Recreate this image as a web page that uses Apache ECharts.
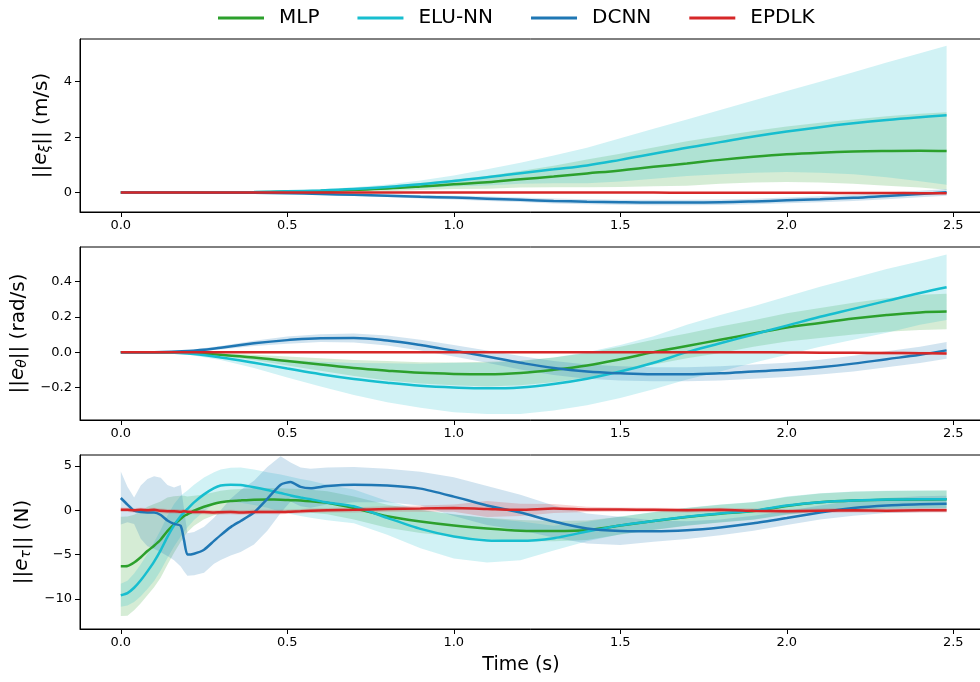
<!DOCTYPE html>
<html>
<head>
<meta charset="utf-8">
<script src="https://cdn.jsdelivr.net/npm/echarts@6/dist/echarts.min.js"></script>
<style>
  html, body { margin: 0; padding: 0; background: #fff; }
  #chart { width: 980px; height: 682px; }
</style>
</head>
<body>
<div id="chart"></div>
<script>
const FONT = "DejaVu Sans";
const methods = ["MLP", "ELU-NN", "DCNN", "EPDLK"];
const colors = ["#2ca02c", "#17becf", "#1f77b4", "#d62728"];
const xTicks = [0, 0.5, 1.0, 1.5, 2.0, 2.5];

// time samples for the two smooth panels
const tSmooth = [0, 0.1, 0.2, 0.3, 0.4, 0.5, 0.6, 0.7, 0.8, 0.9, 1.0, 1.1, 1.2, 1.3, 1.4, 1.5, 1.6, 1.7, 1.8, 1.9, 2.0, 2.1, 2.2, 2.3, 2.4, 2.48];

// panel 1: ||e_xi|| (m/s), mean and std
const velMlp = [0, 0, 0.002, 0.005, 0.015, 0.035, 0.06, 0.1, 0.15, 0.22, 0.3, 0.37, 0.48, 0.58, 0.69, 0.8, 0.93, 1.05, 1.18, 1.29, 1.38, 1.44, 1.48, 1.5, 1.51, 1.5];
const velMlpSd = [0, 0, 0.003, 0.007, 0.014, 0.025, 0.04, 0.065, 0.1, 0.13, 0.17, 0.23, 0.3, 0.39, 0.5, 0.6, 0.7, 0.8, 0.86, 0.93, 1.0, 1.08, 1.16, 1.25, 1.33, 1.4];
const velElu = [0, 0, 0.005, 0.01, 0.02, 0.045, 0.08, 0.13, 0.2, 0.3, 0.42, 0.55, 0.7, 0.84, 0.98, 1.18, 1.4, 1.62, 1.82, 2.02, 2.2, 2.36, 2.5, 2.62, 2.72, 2.79];
const velEluSd = [0, 0, 0.005, 0.01, 0.02, 0.025, 0.04, 0.06, 0.09, 0.14, 0.2, 0.29, 0.38, 0.5, 0.64, 0.78, 0.9, 1.02, 1.16, 1.3, 1.46, 1.64, 1.84, 2.07, 2.31, 2.51];
const velDcnn = [0, 0, 0, -0.005, -0.01, -0.025, -0.05, -0.08, -0.11, -0.15, -0.18, -0.22, -0.26, -0.3, -0.33, -0.35, -0.36, -0.36, -0.35, -0.32, -0.28, -0.24, -0.19, -0.12, -0.05, 0.01];
const velDcnnSd = [0, 0, 0, 0.005, 0.01, 0.02, 0.03, 0.04, 0.05, 0.06, 0.07, 0.08, 0.08, 0.09, 0.09, 0.09, 0.1, 0.1, 0.1, 0.1, 0.1, 0.11, 0.11, 0.12, 0.12, 0.12];
const velEpdlk = [0, 0, 0, 0, 0, 0, 0, 0, 0, 0, 0, 0, 0, 0, 0, 0, 0, -0.005, -0.005, -0.01, -0.01, -0.01, -0.015, -0.015, -0.02, -0.02];
const velEpdlkSd = [0, 0, 0, 0, 0, 0.003, 0.005, 0.008, 0.01, 0.01, 0.012, 0.012, 0.015, 0.015, 0.015, 0.015, 0.015, 0.02, 0.02, 0.02, 0.02, 0.02, 0.02, 0.02, 0.02, 0.02];

// panel 2: ||e_theta|| (rad/s)
const angMlp = [0, 0, -0.003, -0.015, -0.03, -0.05, -0.07, -0.09, -0.105, -0.117, -0.123, -0.125, -0.118, -0.1, -0.075, -0.04, 0.0, 0.035, 0.07, 0.105, 0.14, 0.165, 0.19, 0.21, 0.225, 0.23];
const angMlpSd = [0, 0, 0.002, 0.007, 0.015, 0.025, 0.035, 0.045, 0.055, 0.06, 0.065, 0.07, 0.07, 0.07, 0.07, 0.07, 0.07, 0.07, 0.075, 0.075, 0.08, 0.085, 0.09, 0.095, 0.1, 0.1];
const angElu = [0, 0, -0.008, -0.03, -0.06, -0.093, -0.125, -0.152, -0.173, -0.19, -0.2, -0.205, -0.2, -0.18, -0.15, -0.11, -0.06, 0.0, 0.05, 0.1, 0.15, 0.2, 0.245, 0.29, 0.335, 0.367];
const angEluSd = [0, 0, 0.005, 0.015, 0.03, 0.05, 0.07, 0.09, 0.11, 0.125, 0.14, 0.145, 0.15, 0.15, 0.15, 0.15, 0.15, 0.155, 0.16, 0.16, 0.165, 0.17, 0.175, 0.18, 0.18, 0.185];
const angDcnn = [0, 0, 0.006, 0.025, 0.05, 0.068, 0.079, 0.08, 0.066, 0.04, 0.008, -0.025, -0.06, -0.09, -0.11, -0.12, -0.125, -0.125, -0.12, -0.11, -0.1, -0.085, -0.065, -0.04, -0.015, 0.01];
const angDcnnSd = [0, 0, 0.005, 0.01, 0.015, 0.02, 0.022, 0.025, 0.028, 0.03, 0.033, 0.035, 0.038, 0.04, 0.04, 0.04, 0.04, 0.04, 0.04, 0.04, 0.04, 0.042, 0.044, 0.045, 0.046, 0.047];
const angEpdlk = [0, 0, 0, 0, 0, 0, 0, 0, 0, 0, 0, 0, 0, 0, 0, 0, 0, 0, 0, 0, -0.002, -0.003, -0.004, -0.005, -0.006, -0.007];
const angEpdlkSd = [0, 0, 0, 0.001, 0.002, 0.003, 0.004, 0.005, 0.005, 0.005, 0.005, 0.005, 0.005, 0.005, 0.005, 0.005, 0.005, 0.006, 0.006, 0.006, 0.006, 0.007, 0.007, 0.008, 0.008, 0.008];

// panel 3: ||e_tau|| (N), denser samples early on
const tForce = [0, 0.02, 0.04, 0.06, 0.08, 0.1, 0.12, 0.14, 0.16, 0.18, 0.19, 0.2, 0.22, 0.25, 0.28, 0.3, 0.33, 0.36, 0.4, 0.44, 0.48, 0.51, 0.54, 0.57, 0.62, 0.7, 0.8, 0.9, 1.0, 1.1, 1.2, 1.3, 1.4, 1.5, 1.6, 1.7, 1.8, 1.9, 2.0, 2.1, 2.2, 2.3, 2.4, 2.48];
const forceMlp = [-6.33, -6.3, -5.9, -5.3, -4.6, -4.0, -3.3, -2.35, -1.6, -0.95, -0.65, -0.45, -0.05, 0.4, 0.75, 0.9, 1.05, 1.12, 1.2, 1.22, 1.2, 1.15, 1.1, 1.02, 0.85, 0.25, -0.68, -1.27, -1.72, -2.05, -2.3, -2.35, -2.26, -1.72, -1.22, -0.75, -0.38, -0.08, 0.5, 0.9, 1.1, 1.19, 1.22, 1.24];
const forceMlpSd = [5.6, 5.6, 5.4, 5.2, 5.0, 4.7, 4.3, 3.8, 3.2, 2.6, 2.3, 2.0, 1.7, 1.4, 1.3, 1.3, 1.3, 1.3, 1.3, 1.3, 1.3, 1.3, 1.3, 1.3, 1.3, 1.3, 1.3, 1.3, 1.25, 1.2, 1.2, 1.15, 1.1, 1.0, 1.0, 1.0, 1.0, 1.0, 1.0, 1.0, 1.0, 1.0, 1.0, 1.0];
const forceElu = [-9.6, -9.35, -8.75, -7.9, -6.9, -5.8, -4.5, -3.0, -1.7, -0.65, -0.25, 0.15, 0.9, 1.8, 2.5, 2.8, 2.9, 2.85, 2.6, 2.3, 1.95, 1.68, 1.45, 1.25, 0.88, 0.45, -0.85, -2.1, -2.95, -3.4, -3.45, -3.15, -2.4, -1.7, -1.2, -0.72, -0.35, -0.05, 0.55, 0.92, 1.12, 1.21, 1.24, 1.25];
const forceEluSd = [1.3, 1.4, 1.6, 1.8, 2.0, 2.2, 2.3, 2.4, 2.4, 2.3, 2.2, 2.1, 2.0, 1.9, 1.8, 1.8, 1.9, 2.0, 2.0, 2.0, 2.1, 2.1, 2.1, 2.1, 2.0, 1.9, 1.9, 2.2, 2.5, 2.5, 2.2, 1.4, 1.1, 1.0, 1.0, 1.0, 1.0, 1.0, 1.0, 1.0, 1.0, 1.0, 1.0, 1.0];
const forceDcnn = [1.39, 0.65, -0.05, -0.2, -0.25, -0.25, -0.53, -1.15, -1.53, -1.75, -3.4, -5.0, -4.9, -4.45, -3.45, -2.8, -1.9, -1.2, -0.25, 1.3, 2.9, 3.2, 2.65, 2.5, 2.75, 2.9, 2.8, 2.45, 1.55, 0.55, -0.25, -1.26, -2.05, -2.33, -2.36, -2.24, -1.93, -1.47, -0.87, -0.25, 0.25, 0.54, 0.68, 0.75];
const forceDcnnSd = [3.0, 2.0, 1.5, 3.0, 3.8, 4.1, 4.2, 4.0, 4.1, 4.6, 3.5, 2.4, 2.45, 2.6, 2.6, 2.8, 3.2, 3.5, 3.6, 3.6, 3.2, 2.2, 2.2, 2.2, 2.1, 2.0, 1.9, 1.9, 2.2, 2.2, 2.0, 1.8, 1.7, 1.6, 1.2, 1.0, 0.9, 0.85, 0.8, 0.8, 0.85, 0.85, 0.9, 0.9];
const forceEpdlk = [0.07, 0.05, 0.0, 0.05, 0.0, 0.05, -0.05, -0.1, -0.1, -0.15, -0.1, -0.15, -0.2, -0.2, -0.25, -0.22, -0.2, -0.25, -0.2, -0.18, -0.2, -0.15, -0.1, -0.05, 0.0, 0.05, 0.15, 0.2, 0.25, 0.15, 0.05, 0.2, 0.1, 0.08, 0.05, 0.0, 0.05, -0.05, -0.1, -0.05, 0.0, -0.05, 0.0, 0.0];
const forceEpdlkSd = [0.25, 0.25, 0.25, 0.25, 0.25, 0.25, 0.25, 0.25, 0.25, 0.25, 0.25, 0.25, 0.25, 0.25, 0.25, 0.25, 0.25, 0.25, 0.25, 0.25, 0.25, 0.25, 0.25, 0.25, 0.25, 0.3, 0.3, 0.35, 0.4, 0.9, 0.7, 0.5, 0.3, 0.25, 0.25, 0.25, 0.25, 0.25, 0.25, 0.25, 0.25, 0.25, 0.25, 0.25];

const velTicks = [0, 2, 4];
const angTicks = [-0.2, 0, 0.2, 0.4];
const forceTicks = [-10, -5, 0, 5];

const minus = (s) => s.replace("-", "\u2212");

const panels = [
  { t: tSmooth, mean: [velMlp, velElu, velDcnn, velEpdlk], sd: [velMlpSd, velEluSd, velDcnnSd, velEpdlkSd],
    top: 39, height: 173, min: -0.70, max: 5.54, ticks: velTicks, fmt: (v) => minus(String(v)),
    name: "||{it|e}{sub|ξ}|| (m/s)", gap: 21 },
  { t: tSmooth, mean: [angMlp, angElu, angDcnn, angEpdlk], sd: [angMlpSd, angEluSd, angDcnnSd, angEpdlkSd],
    top: 247, height: 173, min: -0.384, max: 0.595, ticks: angTicks, fmt: (v) => minus(v.toFixed(1)),
    name: "||{it|e}{sub|θ}|| (rad/s)", gap: 47 },
  { t: tForce, mean: [forceMlp, forceElu, forceDcnn, forceEpdlk], sd: [forceMlpSd, forceEluSd, forceDcnnSd, forceEpdlkSd],
    top: 455, height: 174, min: -13.41, max: 6.25, ticks: forceTicks, fmt: (v) => minus(String(v)),
    name: "||{it|e}{sub|τ}|| (N)", gap: 41 },
];

function bandItem(color) {
  return function (params, api) {
    if (params.dataIndexInside !== 0) return null;
    const up = [], dn = [];
    for (let i = 0; i < params.dataInsideLength; i++) {
      const x = api.value(0, i), m = api.value(1, i), s = api.value(2, i);
      up.push(api.coord([x, m + s]));
      dn.push(api.coord([x, m - s]));
    }
    return {
      type: "polygon",
      shape: { points: up.concat(dn.reverse()) },
      style: { fill: echarts.color.modifyAlpha(color, 0.2), stroke: null },
    };
  };
}

const chart = echarts.init(document.getElementById("chart"), null, { renderer: "canvas" });

const grid = [], xAxis = [], yAxis = [], series = [];
panels.forEach((p, k) => {
  grid.push({ left: 80, top: p.top, width: 908, height: p.height, show: true,
    borderColor: "#000", borderWidth: 1, outerBoundsMode: "none" });
  xAxis.push({
    type: "value", gridIndex: k, min: -0.1225, max: 2.6043,
    splitLine: { show: false },
    axisLine: { show: true, onZero: false, lineStyle: { color: "#000", width: 1 } },
    axisTick: { show: true, length: 5, customValues: xTicks, lineStyle: { color: "#000" } },
    axisLabel: { customValues: xTicks, formatter: (v) => v.toFixed(1), fontSize: 13, color: "#000", margin: 7, fontFamily: FONT },
    name: k === 2 ? "Time (s)" : "", nameLocation: "middle", nameGap: 27,
    nameTextStyle: { fontSize: 19, color: "#000", fontFamily: FONT, padding: [0, 26, 0, 0] },
  });
  yAxis.push({
    type: "value", gridIndex: k, min: p.min, max: p.max,
    splitLine: { show: false },
    axisLine: { show: true, onZero: false, lineStyle: { color: "#000", width: 1 } },
    axisTick: { show: true, length: 5, customValues: p.ticks, lineStyle: { color: "#000" } },
    axisLabel: { customValues: p.ticks, formatter: p.fmt, fontSize: 13, color: "#000", margin: 8, fontFamily: FONT },
    name: p.name, nameLocation: "middle", nameGap: p.gap,
    nameTextStyle: {
      fontSize: 20, color: "#000", fontFamily: FONT, lineHeight: 22, verticalAlign: "top",
      rich: {
        it: { fontSize: 20, fontStyle: "italic", fontFamily: FONT, color: "#000", lineHeight: 22, verticalAlign: "top" },
        sub: { fontSize: 14, fontStyle: "italic", fontFamily: FONT, color: "#000", lineHeight: 14, padding: [12, 0, 0, 0], verticalAlign: "bottom" },
      },
    },
  });
  methods.forEach((m, j) => {
    const data = p.t.map((t, i) => [t, p.mean[j][i], p.sd[j][i]]);
    series.push({
      type: "custom", name: m + " band", xAxisIndex: k, yAxisIndex: k, z: 1, silent: true,
      renderItem: bandItem(colors[j]), data, encode: { x: 0, y: 1 },
    });
  });
  methods.forEach((m, j) => {
    series.push({
      type: "line", name: m, xAxisIndex: k, yAxisIndex: k, z: 3 + j,
      data: p.t.map((t, i) => [t, p.mean[j][i]]),
      showSymbol: false, symbol: "none", smooth: k === 2 ? 0.2 : 0.4,
      lineStyle: { color: colors[j], width: 2.5 }, itemStyle: { color: colors[j] },
    });
  });
});

chart.setOption({
  animation: false,
  backgroundColor: "#fff",
  textStyle: { fontFamily: FONT },
  legend: {
    data: methods.map((m) => ({ name: m, icon: "rect" })),
    top: 3, left: 213, itemWidth: 46, itemHeight: 3, itemGap: 38,
    textStyle: { fontSize: 20, color: "#000", fontFamily: FONT, padding: [0, 0, 0, 10] },
  },
  grid, xAxis, yAxis, series,
});
</script>
</body>
</html>
